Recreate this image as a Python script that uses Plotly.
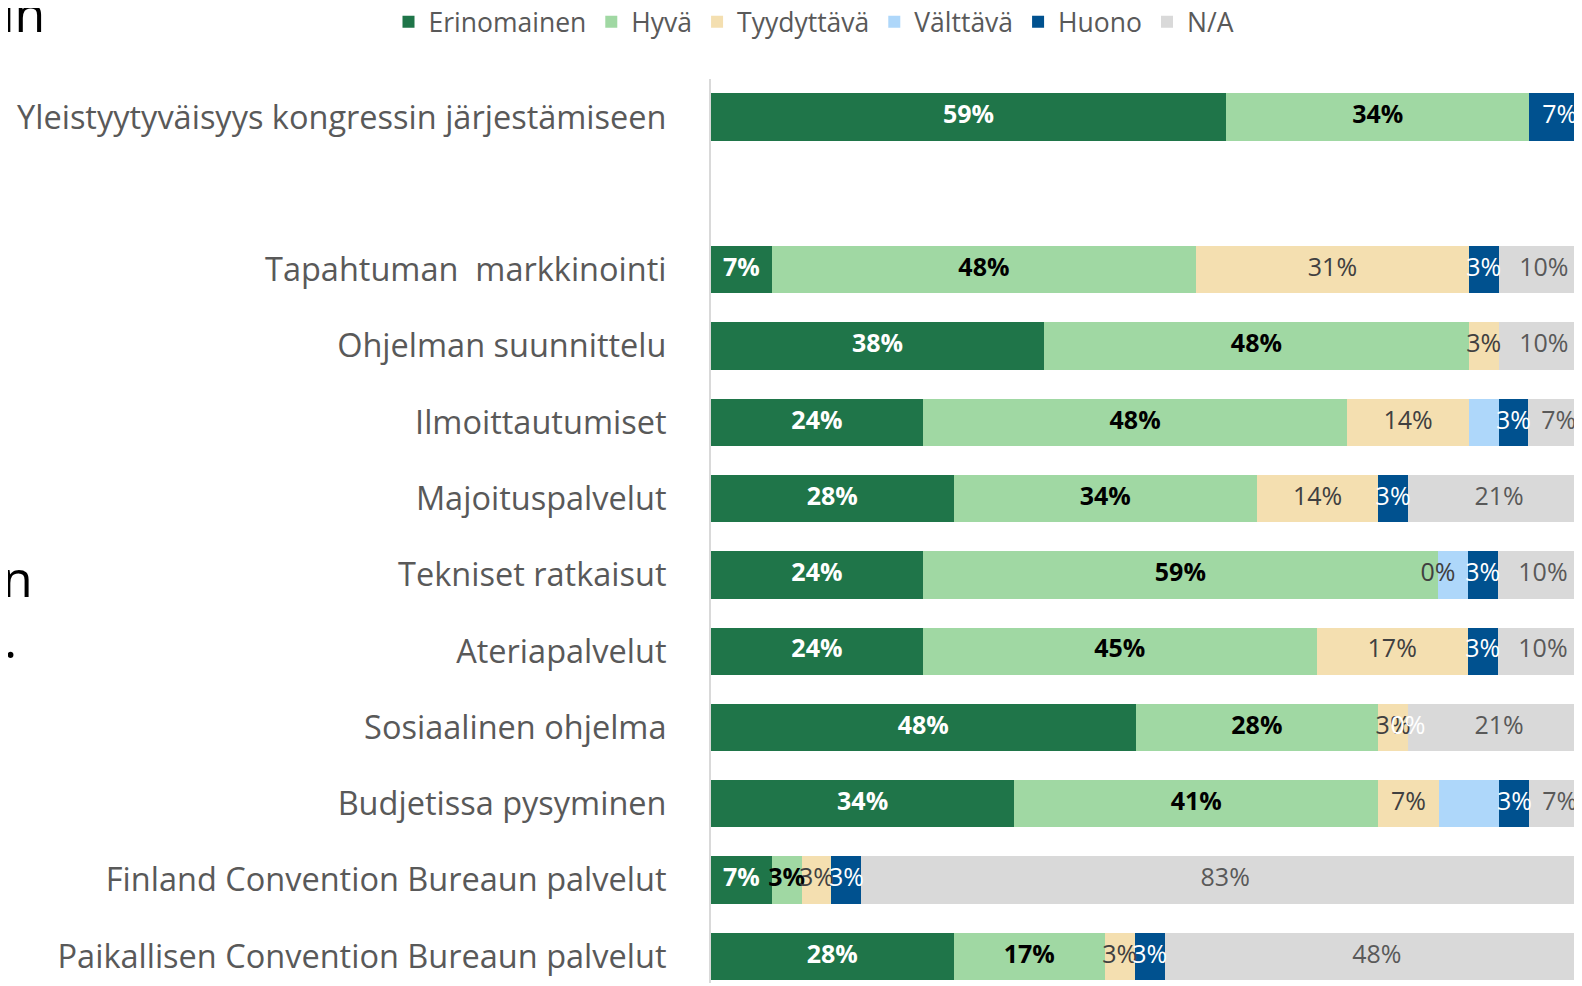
import plotly.graph_objects as go

# ---- data ----
categories = [
    "Yleistyytyväisyys kongressin järjestämiseen",
    "",
    "Tapahtuman\u00a0 markkinointi",
    "Ohjelman suunnittelu",
    "Ilmoittautumiset",
    "Majoituspalvelut",
    "Tekniset ratkaisut",
    "Ateriapalvelut",
    "Sosiaalinen ohjelma",
    "Budjetissa pysyminen",
    "Finland Convention Bureaun palvelut",
    "Paikallisen Convention Bureaun palvelut",
]
series_names = ["Erinomainen", "Hyvä", "Tyydyttävä", "Välttävä", "Huono", "N/A"]

erinomainen = [58.6, None, 6.9, 37.9, 24.1, 27.6, 24.1, 24.1, 48.3, 34.5, 6.9, 27.6]
hyva        = [34.5, None, 48.3, 48.3, 48.3, 34.5, 58.6, 44.8, 27.6, 41.4, 3.4, 17.2]
tyydyttava  = [None, None, 31.0, 3.4, 13.8, 13.8, 0.0, 17.2, 3.4, 6.9, 3.4, 3.4]
valttava    = [None, None, None, None, 3.4, None, 3.4, None, 0.0, 6.9, None, None]
huono       = [6.9, None, 3.4, None, 3.4, 3.4, 3.4, 3.4, None, 3.4, 3.4, 3.4]
na          = [None, None, 10.3, 10.3, 6.9, 20.7, 10.3, 10.3, 20.7, 6.9, 82.8, 48.3]

series_values = [erinomainen, hyva, tyydyttava, valttava, huono, na]

# ---- styles ----
colors = ["#1F7549", "#A0D8A3", "#F4DFB0", "#AED7FA", "#00518F", "#D9D9D9"]
label_colors = ["#FFFFFF", "#000000", "#404040", "#FFFFFF", "#FFFFFF", "#595959"]
label_bold = [True, True, False, False, False, False]
# white labels on the light-blue series are invisible in the original; only its 0% label shows
label_only_zero = [False, False, False, True, False, False]
FONT = "Open Sans, Noto Sans, DejaVu Sans, sans-serif"

W, H = 1582, 986
ML, MR, MT, MB = 703, 0, 71, 11
plot_h = H - MT - MB
plot_w = W - ML - MR

ypos = list(range(len(categories)))

fig = go.Figure()

# bars
for name, vals, col in zip(series_names, series_values, colors):
    fig.add_trace(go.Bar(
        name=name, x=vals, y=ypos, orientation="h",
        marker=dict(color=col, line=dict(width=0)),
        width=0.62, hoverinfo="skip",
    ))

# labels (centered in each segment, allowed to overflow like the original)
cum = [0.0] * len(categories)
for name, vals, lc, bold, only0 in zip(series_names, series_values, label_colors,
                                        label_bold, label_only_zero):
    xs, ys, ts = [], [], []
    for i, v in enumerate(vals):
        if v is None:
            continue
        if not (only0 and v > 0):
            xs.append(cum[i] + v / 2.0)
            ys.append(i)
            ts.append(f"{v:.0f}%")
        cum[i] += v
    fig.add_trace(go.Scatter(
        x=xs, y=ys, mode="text", text=ts, showlegend=False, hoverinfo="skip",
        textposition="middle center",
        textfont=dict(family=FONT, size=25, color=lc,
                      weight="bold" if bold else "normal"),
    ))


def px_to_paper_x(px):
    return (px - ML) / plot_w


def px_to_paper_y(py):
    return (H - MB - py) / plot_h


# stray slide-text fragments visible at the left edge of the reference
for txt, px, py in [("in", -8, 5), ("n", -8, 570), (".", -6, 631)]:
    fig.add_annotation(
        text=txt, xref="paper", yref="paper",
        x=px_to_paper_x(px), y=px_to_paper_y(py),
        xanchor="left", yanchor="middle", showarrow=False,
        font=dict(family=FONT, size=50, color="#000000"),
    )

fig.update_layout(
    width=W, height=H,
    barmode="stack",
    bargap=0.38,
    plot_bgcolor="white", paper_bgcolor="white",
    margin=dict(l=ML, r=MR, t=MT, b=MB, autoexpand=False),
    font=dict(family=FONT, color="#595959"),
    legend=dict(
        orientation="h", x=px_to_paper_x(806), xanchor="center",
        y=px_to_paper_y(14), yanchor="middle",
        font=dict(family=FONT, size=26.5, color="#595959"),
        bgcolor="rgba(0,0,0,0)", traceorder="normal",
    ),
    xaxis=dict(range=[0, 100], visible=False, fixedrange=True),
    yaxis=dict(
        range=[11.35, -0.5],
        tickmode="array", tickvals=ypos, ticktext=categories,
        showgrid=False, zeroline=False,
        showline=True, linecolor="#D9D9D9", linewidth=2,
        ticks="", ticklabelstandoff=36,
        tickfont=dict(family=FONT, size=32.5, color="#595959"),
    ),
)

fig.write_html("out.html")
